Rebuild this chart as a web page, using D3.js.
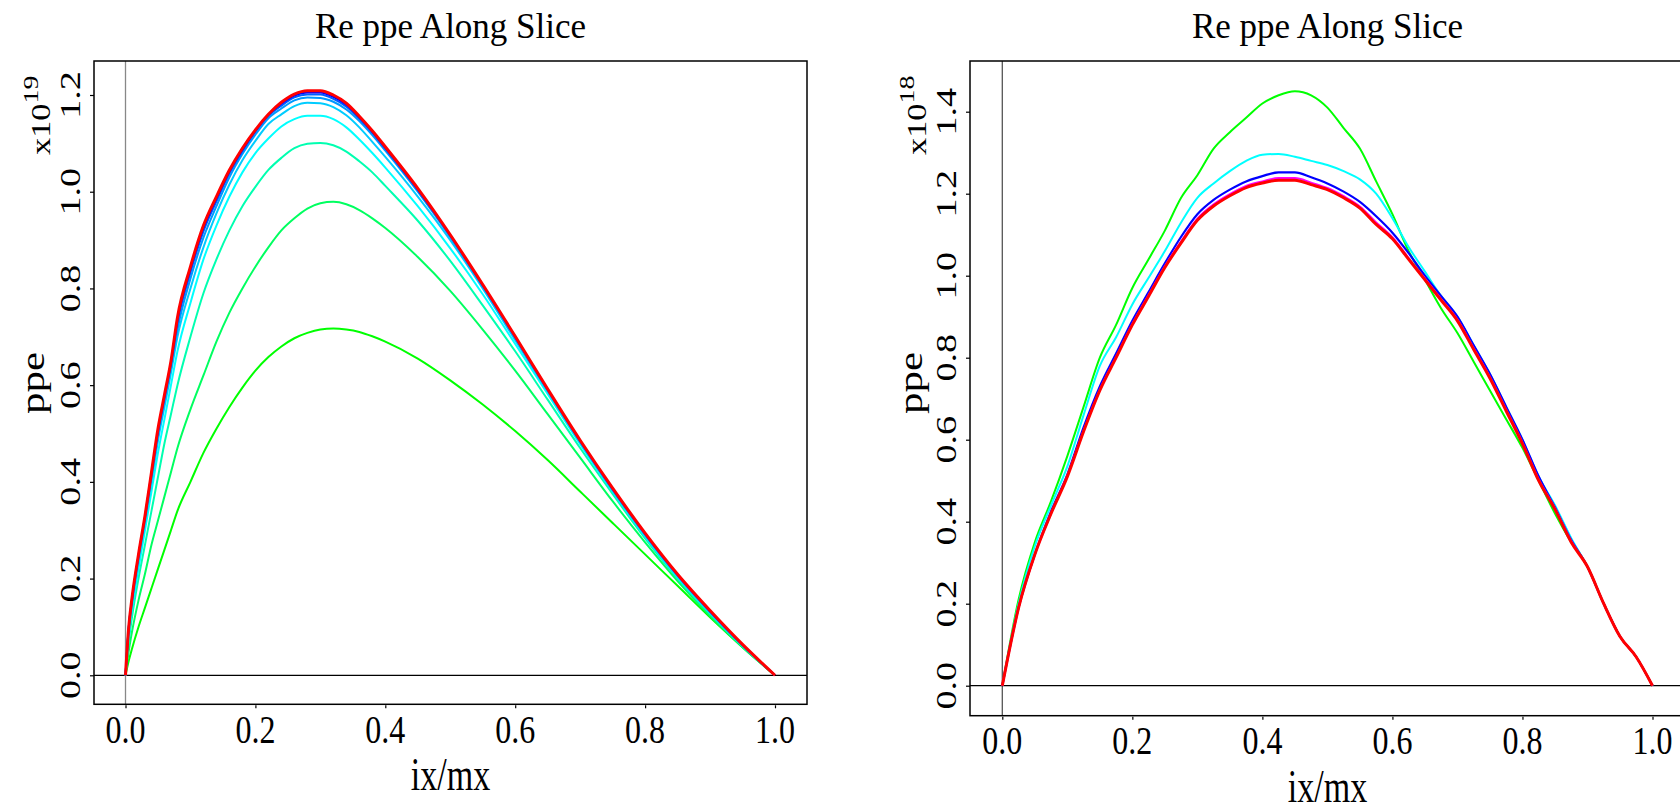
<!DOCTYPE html>
<html><head><meta charset="utf-8">
<script src="https://cdn.jsdelivr.net/npm/d3@7/dist/d3.min.js"></script>
<style>html,body{margin:0;padding:0;background:#fff;overflow:hidden}</style>
</head><body><svg id="c" width="1680" height="812"></svg>
<script>
// ---------- DATA ----------
const titleText = "Re ppe Along Slice";
const xLabel = "ix/mx";
const yLabel = "ppe";
const xTicks = [0, 0.2, 0.4, 0.6, 0.8, 1.0];
const leftYTicks = [0, 0.2, 0.4, 0.6, 0.8, 1.0, 1.2];
const rightYTicks = [0, 0.2, 0.4, 0.6, 0.8, 1.0, 1.2, 1.4];
const leftExp = "19";
const rightExp = "18";

// left panel: x positions and series (units of 1e19)
const leftX = [0,0.005,0.01,0.02,0.03,0.04,0.05,0.06,0.07,0.08,0.1,0.12,0.14,0.16,0.18,0.2,0.22,0.24,0.26,0.28,0.3,0.32,0.34,0.36,0.38,0.4,0.45,0.5,0.55,0.6,0.65,0.7,0.75,0.8,0.85,0.9,0.95,1.0];
const leftColors = ["#00ff00","#00ff60","#00ffb0","#00ffff","#00ccff","#0099ff","#0060ff","#0000ff","#ff0000"];
const leftS1 = [0,0.03,0.055,0.10,0.14,0.18,0.22,0.26,0.30,0.34,0.40,0.46,0.51,0.555,0.595,0.63,0.658,0.68,0.697,0.708,0.715,0.717,0.715,0.71,0.701,0.69,0.655,0.61,0.56,0.505,0.445,0.38,0.315,0.25,0.185,0.12,0.058,0];
const leftS2 = [0,0.05,0.09,0.155,0.21,0.27,0.32,0.37,0.42,0.47,0.55,0.62,0.69,0.75,0.80,0.845,0.885,0.92,0.945,0.965,0.976,0.979,0.974,0.962,0.945,0.925,0.865,0.795,0.715,0.63,0.54,0.45,0.36,0.275,0.195,0.123,0.058,0];
const leftS3 = [0,0.07,0.12,0.20,0.27,0.34,0.41,0.48,0.54,0.60,0.70,0.79,0.86,0.92,0.97,1.01,1.045,1.07,1.09,1.099,1.101,1.096,1.083,1.063,1.04,1.012,0.94,0.857,0.765,0.67,0.57,0.47,0.375,0.283,0.2,0.127,0.06,0];
const leftS4 = [0,0.08,0.135,0.22,0.30,0.38,0.46,0.53,0.60,0.67,0.77,0.86,0.93,0.99,1.04,1.08,1.11,1.135,1.15,1.157,1.157,1.15,1.133,1.108,1.08,1.05,0.97,0.883,0.788,0.685,0.582,0.478,0.38,0.287,0.203,0.129,0.061,0];
const leftS5 = [0,0.09,0.145,0.235,0.315,0.40,0.485,0.555,0.625,0.70,0.80,0.885,0.955,1.015,1.065,1.105,1.14,1.16,1.177,1.184,1.183,1.175,1.158,1.133,1.103,1.072,0.99,0.9,0.8,0.693,0.587,0.481,0.382,0.289,0.205,0.13,0.062,0];
const leftS6 = [0,0.095,0.152,0.242,0.322,0.41,0.495,0.567,0.637,0.715,0.82,0.905,0.97,1.03,1.078,1.118,1.152,1.172,1.189,1.195,1.194,1.186,1.170,1.146,1.117,1.085,1.0,0.906,0.804,0.697,0.589,0.483,0.384,0.291,0.206,0.131,0.062,0];
const leftS7 = [0,0.098,0.156,0.246,0.326,0.415,0.502,0.574,0.644,0.728,0.833,0.918,0.98,1.038,1.084,1.124,1.157,1.178,1.195,1.201,1.201,1.192,1.176,1.151,1.122,1.089,1.003,0.909,0.806,0.699,0.59,0.484,0.385,0.292,0.207,0.132,0.063,0];
const leftS8 = [0,0.1,0.158,0.248,0.328,0.418,0.506,0.577,0.647,0.735,0.84,0.925,0.986,1.042,1.087,1.126,1.159,1.182,1.199,1.205,1.205,1.196,1.180,1.154,1.124,1.091,1.005,0.91,0.807,0.70,0.591,0.485,0.386,0.293,0.208,0.133,0.063,0];
const leftS9 = [0,0.1,0.16,0.25,0.33,0.42,0.51,0.58,0.65,0.74,0.845,0.93,0.99,1.045,1.09,1.128,1.16,1.185,1.202,1.209,1.209,1.2,1.183,1.156,1.126,1.093,1.007,0.911,0.808,0.701,0.592,0.486,0.387,0.294,0.209,0.134,0.064,0];

// right panel: x positions and series (units of 1e18)
const rightX = [0,0.025,0.05,0.075,0.1,0.125,0.15,0.175,0.2,0.225,0.25,0.275,0.3,0.325,0.35,0.375,0.4,0.425,0.45,0.475,0.5,0.525,0.55,0.575,0.6,0.625,0.65,0.675,0.7,0.725,0.75,0.775,0.8,0.825,0.85,0.875,0.9,0.925,0.95,0.975,1.0];
const rightColors = ["#00ff00","#00ffff","#0000ff","#ff00ff","#ff0000"];
const rightGreen = [0,0.21,0.35,0.45,0.56,0.68,0.80,0.88,0.97,1.04,1.11,1.19,1.245,1.31,1.35,1.385,1.42,1.44,1.45,1.44,1.41,1.36,1.31,1.23,1.15,1.06,0.99,0.92,0.86,0.79,0.72,0.65,0.58,0.50,0.42,0.35,0.29,0.20,0.12,0.07,0];
const rightCyan = [0,0.20,0.34,0.44,0.535,0.66,0.78,0.85,0.93,0.995,1.06,1.13,1.19,1.225,1.255,1.28,1.295,1.297,1.29,1.28,1.27,1.255,1.235,1.20,1.14,1.07,1.01,0.95,0.90,0.83,0.76,0.68,0.60,0.51,0.44,0.36,0.29,0.20,0.12,0.07,0];
const rightBlue = [0,0.19,0.32,0.425,0.515,0.63,0.73,0.81,0.89,0.96,1.03,1.095,1.15,1.185,1.21,1.23,1.243,1.252,1.252,1.24,1.225,1.205,1.18,1.145,1.105,1.055,1.0,0.95,0.90,0.83,0.76,0.68,0.60,0.51,0.435,0.355,0.29,0.20,0.12,0.07,0];
const rightMagenta = [0,0.19,0.32,0.42,0.512,0.622,0.722,0.802,0.882,0.953,1.023,1.084,1.139,1.174,1.199,1.219,1.23,1.238,1.238,1.227,1.214,1.194,1.169,1.13,1.094,1.043,0.993,0.943,0.893,0.823,0.753,0.673,0.593,0.503,0.433,0.353,0.29,0.20,0.12,0.07,0];
const rightRed = [0,0.19,0.32,0.42,0.51,0.62,0.72,0.80,0.88,0.95,1.02,1.08,1.135,1.17,1.195,1.215,1.226,1.233,1.233,1.222,1.21,1.19,1.165,1.125,1.09,1.04,0.99,0.94,0.89,0.82,0.75,0.67,0.59,0.50,0.43,0.35,0.29,0.20,0.12,0.07,0];

// ---------- DRAW ----------
const svg = d3.select("#c");
const serif = "'Liberation Serif','Times New Roman',serif";
const stretch = 1.27;

function txt(g, x, y, s, size, opts = {}) {
  const rot = opts.rot || 0, sy = opts.sy || 1;
  return g.append("text")
    .attr("transform", `translate(${x},${y}) scale(1,${sy}) rotate(${rot})`)
    .attr("text-anchor", opts.anchor || "middle")
    .style("font-family", serif).style("font-size", size + "px")
    .attr("fill", "#000").text(s);
}

function panel(cfg) {
  const g = svg.append("g");
  const x = d3.scaleLinear().domain([0, 1]).range(cfg.xr);
  const y = d3.scaleLinear().domain([0, cfg.yTop]).range(cfg.yr);
  const clipId = "clip" + cfg.id;
  g.append("clipPath").attr("id", clipId).append("rect")
    .attr("x", cfg.fx0).attr("y", cfg.fy0).attr("width", cfg.fx1 - cfg.fx0).attr("height", cfg.fy1 - cfg.fy0);
  const plot = g.append("g").attr("clip-path", `url(#${clipId})`);
  plot.append("line").attr("x1", x(0)).attr("x2", x(0)).attr("y1", cfg.fy0).attr("y2", cfg.fy1)
    .attr("stroke", cfg.vcol).attr("stroke-width", 1.3);
  plot.append("line").attr("x1", cfg.fx0).attr("x2", cfg.fx1).attr("y1", y(0)).attr("y2", y(0))
    .attr("stroke", "#000").attr("stroke-width", 1.3);
  const line = d3.line().x((d, i) => x(cfg.xs[i])).y(d => y(d)).curve(d3.curveMonotoneX);
  cfg.series.forEach((s, i) => {
    plot.append("path").attr("d", line(s)).attr("fill", "none")
      .attr("stroke", cfg.colors[i]).attr("stroke-width", cfg.widths[i])
      .attr("stroke-linejoin", "round");
  });
  g.append("rect").attr("x", cfg.fx0).attr("y", cfg.fy0).attr("width", cfg.fx1 - cfg.fx0).attr("height", cfg.fy1 - cfg.fy0)
    .attr("fill", "none").attr("stroke", "#000").attr("stroke-width", 1.5);
  // x axis
  const xa = d3.axisBottom(x).tickValues(xTicks).tickSize(3).tickFormat("");
  const xg = g.append("g").attr("transform", `translate(0,${cfg.fy1 + 1})`).call(xa);
  xg.select(".domain").remove();
  xg.selectAll(".tick line").attr("stroke", "#000").attr("stroke-width", 1.2);
  xTicks.forEach(t => txt(g, x(t), cfg.fy1 + 38.5, d3.format(".1f")(t), 32, { sy: stretch }));
  // y axis
  const ya = d3.axisLeft(y).tickValues(cfg.yTicks).tickSize(4).tickFormat("");
  const yg = g.append("g").attr("transform", `translate(${cfg.fx0},0)`).call(ya);
  yg.select(".domain").remove();
  yg.selectAll(".tick line").attr("stroke", "#000").attr("stroke-width", 1.2);
  cfg.yTicks.forEach(t => txt(g, cfg.fx0 - 14, y(t), d3.format(".1f")(t), 30, { rot: -90, sy: stretch }));
  // titles
  const cx = (cfg.fx0 + cfg.fx1) / 2;
  txt(g, cx, 38, titleText, 35);
  txt(g, cx, cfg.fy1 + 86, xLabel, 34, { sy: 1.35 });
  txt(g, cfg.ppeX, 383, yLabel, 33, { rot: -90, sy: 1.3 });
  // exponent label
  const ex = g.append("text")
    .attr("transform", `translate(${cfg.fx0 - 44},155) scale(1,${stretch}) rotate(-90)`)
    .attr("text-anchor", "start").style("font-family", serif).style("font-size", "27px");
  ex.append("tspan").text("x10");
  ex.append("tspan").attr("dy", -12).style("font-size", "22px").text(cfg.exp);
}

panel({
  id: "L", xs: leftX, series: [leftS1, leftS2, leftS3, leftS4, leftS5, leftS6, leftS7, leftS8, leftS9],
  colors: leftColors, widths: [2, 2, 2, 2, 2, 2, 2, 2, 3],
  xr: [125.5, 775], yTop: 1.2, yr: [675.3, 95], yTicks: leftYTicks,
  fx0: 94, fx1: 807, fy0: 61, fy1: 704.3, vcol: "#888", ppeX: 44, exp: leftExp
});
panel({
  id: "R", xs: rightX, series: [rightGreen, rightCyan, rightBlue, rightMagenta, rightRed],
  colors: rightColors, widths: [2, 2, 2.2, 2, 3],
  xr: [1002.3, 1652.5], yTop: 1.4, yr: [685.7, 111.7], yTicks: rightYTicks,
  fx0: 970, fx1: 1685, fy0: 61, fy1: 715.7, vcol: "#555", ppeX: 922, exp: rightExp
});
</script>
</body></html>
